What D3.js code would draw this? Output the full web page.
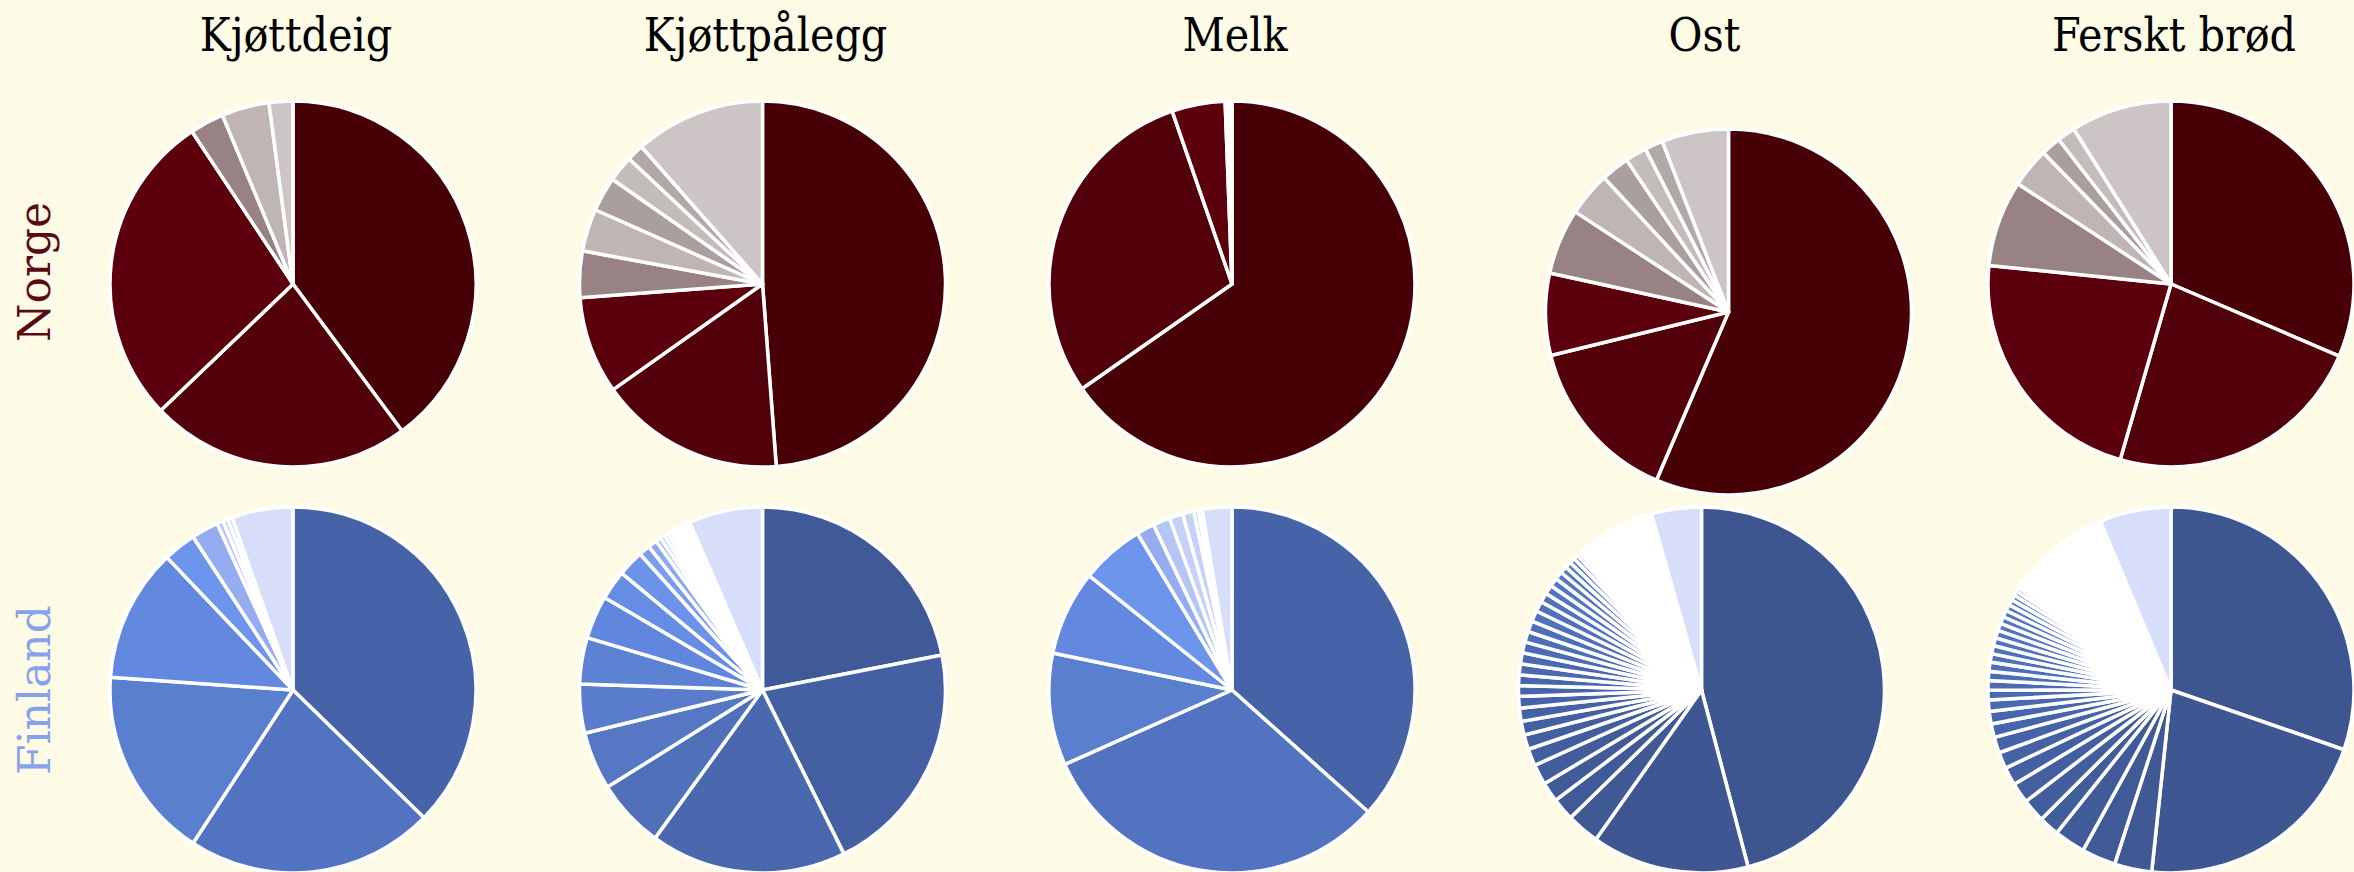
<!DOCTYPE html>
<html>
<head>
<meta charset="utf-8">
<script src="https://cdn.jsdelivr.net/npm/d3@7"></script>
<style>
  html, body { margin: 0; padding: 0; background: #fdfbe5; }
  svg { display: block; }
</style>
</head>
<body>
<div id="pies"></div>
<script>
// categories
const products = ['Kjøttdeig', 'Kjøttpålegg', 'Melk', 'Ost', 'Ferskt brød'];
const countries = ['Norge', 'Finland'];

// market shares (%), clockwise from 12 o'clock, last entry = the rest
const norgeKjottdeig = [39.8, 23.0, 27.8, 3.0, 4.2, 2.1];
const norgeKjottpalegg = [48.8, 16.4, 8.6, 4.1, 3.75, 3.05, 2.3, 1.5, 11.5];
const norgeMelk = [65.3, 29.4, 4.7, 0.3, 0.3];
const norgeOst = [56.5, 14.75, 7.25, 5.8, 3.9, 2.5, 1.9, 1.6, 5.9];
const norgeBrod = [31.4, 23.0, 22.1, 7.6, 3.5, 1.75, 1.6, 8.9];

const finlandKjottdeig = [37.3, 21.9, 16.9, 11.8, 2.9, 2.4, 0.55, 0.45, 0.4, 5.4];
const finlandKjottpalegg = [21.9, 20.7, 17.3, 6.1, 5.1, 4.3, 4.1, 3.8, 2.6, 2.3, 1.0, 0.8,
  0.45, 0.4, 0.35, 0.35, 0.24, 0.22, 0.2, 0.18, 0.16, 0.14, 0.12, 0.12, 0.1, 0.1, 0.08, 0.08, 0.06,
  6.5];
const finlandMelk = [36.6, 31.7, 9.9, 7.5, 5.6, 1.6, 1.5, 1.2, 1.0, 0.4, 0.35, 2.6];
const finlandOst = [45.9, 13.9, 2.9, 2.0, 1.75, 1.8, 1.5, 1.3, 1.2, 1.17, 1.03, 0.94, 0.94, 0.97,
  0.97, 0.97, 0.94, 0.97, 0.95, 0.9, 0.85, 0.8, 0.75, 0.7, 0.62, 0.55, 0.48, 0.4, 0.35,
  0.3, 0.3, 0.28, 0.27, 0.26, 0.25, 0.24, 0.24, 0.23, 0.22, 0.22, 0.21, 0.2, 0.2, 0.19, 0.19,
  0.18, 0.18, 0.17, 0.17, 0.16, 0.16, 0.15, 0.15, 0.14, 0.14, 0.13, 0.13, 0.12, 0.12, 0.11, 0.11,
  0.1, 0.1, 0.09, 0.09, 0.08, 0.08, 0.07, 0.07, 0.06, 0.06, 0.05, 0.05, 0.04, 0.04,
  4.4];
const finlandBrod = [30.3, 21.4, 3.3, 3.0, 2.75, 1.8, 2.05, 1.8, 1.6, 1.45, 1.4, 1.2, 1.1, 1.0, 0.86,
  0.85, 0.8, 0.8, 0.75, 0.72, 0.7, 0.68, 0.65, 0.62, 0.6, 0.55, 0.5, 0.45, 0.4, 0.35, 0.3,
  0.3, 0.3, 0.3, 0.29, 0.28, 0.28, 0.27, 0.26, 0.26, 0.26, 0.25, 0.25, 0.24, 0.24, 0.23, 0.23,
  0.22, 0.22, 0.21, 0.21, 0.2, 0.2, 0.19, 0.19, 0.18, 0.18, 0.17, 0.17, 0.16, 0.16, 0.15, 0.15,
  0.14, 0.14, 0.13, 0.13, 0.12, 0.12, 0.11, 0.11, 0.1, 0.1, 0.09, 0.09, 0.08, 0.08, 0.07, 0.07,
  0.06, 0.06,
  6.3];

const shares = {
  Norge: [norgeKjottdeig, norgeKjottpalegg, norgeMelk, norgeOst, norgeBrod],
  Finland: [finlandKjottdeig, finlandKjottpalegg, finlandMelk, finlandOst, finlandBrod],
};

// colours
const norgePalette = ['#470005', '#52000a', '#5c000e', '#988283', '#c0b5b5', '#ab9e9f', '#c4bbbb', '#b3a8a8'];
const norgeRest = '#cdc5c5';
const finlandStops = ['#3d5690', '#4663a7', '#5273bf', '#5b7fcf', '#6288e0', '#6e95ec', '#95adf0', '#b5c5f5', '#c6d1f7'];
const finlandRest = '#d6def9';
// [start, step] along the blue ramp, per product
const finlandRamp = [[1, 1], [0.3, 0.5], [1, 1], [0, 0.1], [0, 0.1]];
const labelColor = { Norge: '#5a0a14', Finland: '#86a2ea' };

const makePlot = () => {
  const container = d3.select('#pies');
  container.selectAll('*').remove();

  const size = { width: 2354, height: 872 };
  const radius = 183;
  const font = '"DejaVu Serif", Georgia, serif';

  const svg = container.append('svg')
    .attr('width', size.width)
    .attr('height', size.height);

  svg.append('rect')
    .attr('width', size.width)
    .attr('height', size.height)
    .attr('fill', '#fdfbe5');

  const x = d3.scalePoint().domain(products).range([293, 2171]);
  const y = d3.scalePoint().domain(countries).range([284, 690]);
  const labelY = d3.scalePoint().domain(countries).range([272, 690]);

  // the Norwegian cheese pie sits a bit off the grid in the original
  const nudge = (country, product) => (country === 'Norge' && product === 'Ost' ? [27, 28] : [0, 0]);

  const blue = d3.scaleLinear()
    .domain(d3.range(finlandStops.length))
    .range(finlandStops)
    .clamp(true);

  const sliceColor = (country, p, i, n) => {
    if (i === n - 1) return country === 'Norge' ? norgeRest : finlandRest;
    if (country === 'Norge') return norgePalette[Math.min(i, norgePalette.length - 1)];
    const [start, step] = finlandRamp[p];
    return blue(start + i * step);
  };

  const pie = d3.pie().sort(null).value((d) => d);
  const arc = d3.arc().innerRadius(0).outerRadius(radius);

  // titles
  svg.append('g')
    .selectAll('text')
    .data(products)
    .join('text')
    .attr('x', (d) => x(d) + 3)
    .attr('y', 51)
    .attr('text-anchor', 'middle')
    .style('font-family', font)
    .style('font-stretch', 'condensed')
    .style('font-size', '46px')
    .attr('fill', '#000')
    .text((d) => d);

  // pies
  countries.forEach((country) => {
    products.forEach((product, p) => {
      const values = shares[country][p];
      const [dx, dy] = nudge(country, product);
      const g = svg.append('g')
        .attr('transform', `translate(${x(product) + dx},${y(country) + dy})`);
      g.selectAll('path')
        .data(pie(values))
        .join('path')
        .attr('d', arc)
        .attr('fill', (d, i) => sliceColor(country, p, i, values.length))
        .attr('stroke', '#fff')
        .attr('stroke-width', 3.5)
        .attr('stroke-linejoin', 'round');
    });
  });

  // row labels
  svg.append('g')
    .selectAll('text')
    .data(countries)
    .join('text')
    .attr('transform', (d) => `translate(50,${labelY(d)}) rotate(-90)`)
    .attr('text-anchor', 'middle')
    .style('font-family', font)
    .style('font-size', '44px')
    .attr('fill', (d) => labelColor[d])
    .text((d) => d);
};

makePlot();
</script>
</body>
</html>
